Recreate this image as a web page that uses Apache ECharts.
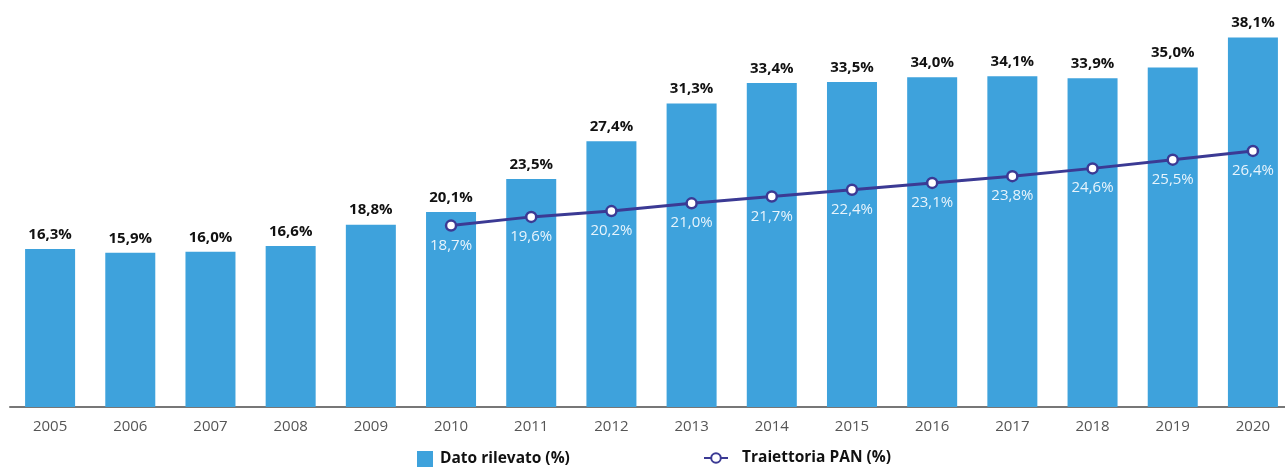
<!DOCTYPE html>
<html><head><meta charset="utf-8">
<script src="https://cdn.jsdelivr.net/npm/echarts@6/dist/echarts.min.js"></script>
<style>html,body{margin:0;padding:0;background:#fff}#c{width:1285px;height:472px}</style>
</head><body><div id="c"></div>
<script>
const years = ['2005','2006','2007','2008','2009','2010','2011','2012','2013','2014','2015','2016','2017','2018','2019','2020'];
const datoRilevato = [16.3,15.9,16.0,16.6,18.8,20.1,23.5,27.4,31.3,33.4,33.5,34.0,34.1,33.9,35.0,38.1];
const traiettoriaPAN = [null,null,null,null,null,18.7,19.6,20.2,21.0,21.7,22.4,23.1,23.8,24.6,25.5,26.4];
const fmt = v => v.toFixed(1).replace('.', ',') + '%';
const FONT = '"Open Sans", "Noto Sans", sans-serif';
const LINE = '#3b3a94';
const idx = years.map((_, i) => i);
const barData = datoRilevato.map((v, i) => [i, v]);
const lineData = traiettoriaPAN.map((v, i) => [i, v]).filter(d => d[1] !== null);
const chart = echarts.init(document.getElementById('c'), null, {renderer:'canvas'});
chart.setOption({
  animation:false,
  textStyle:{fontFamily:FONT},
  grid:{left:10,right:0,top:19,bottom:65,containLabel:false},
  legend:[
    {bottom:0,left:412,itemWidth:16,itemHeight:16,itemGap:10,
     textStyle:{fontFamily:FONT,fontSize:15.5,fontWeight:'bold',color:'#111',padding:[0,0,0,2]},
     data:[{name:'Dato rilevato (%)',icon:'rect'}]},
    {bottom:1,left:698,itemWidth:24,itemHeight:12,itemGap:10,
     textStyle:{fontFamily:FONT,fontSize:15.5,fontWeight:'bold',color:'#111',padding:[0,0,0,9]},
     data:[{name:'Traiettoria PAN (%)'}]}
  ],
  xAxis:{type:'value',min:-0.5,max:15.4,
    splitLine:{show:false},
    axisLine:{onZero:false,lineStyle:{color:'#777',width:2}},
    axisTick:{show:false,customValues:idx},
    axisLabel:{customValues:idx,formatter:v=>years[Math.round(v)]||'',
      color:'#555',fontSize:15,margin:12,fontFamily:FONT,showMinLabel:true,showMaxLabel:true}},
  yAxis:{type:'value',min:0,max:40,show:false,splitLine:{show:false}},
  series:[
    {name:'Dato rilevato (%)',type:'bar',data:barData,barWidth:50,
     itemStyle:{color:'#3ea2dc'},
     label:{show:true,position:'top',distance:7,formatter:p=>fmt(p.value[1]),
       color:'#111',fontWeight:'bold',fontSize:15,fontFamily:FONT}},
    {name:'Traiettoria PAN (%)',type:'line',data:lineData,
     symbol:'circle',symbolSize:10,showAllSymbol:true,
     lineStyle:{color:LINE,width:3},
     itemStyle:{color:'#fff',borderColor:LINE,borderWidth:2.5},
     label:{show:true,position:'bottom',distance:6,formatter:p=>fmt(p.value[1]),
       color:'#e8f4fc',fontSize:15,fontFamily:FONT}}
  ]
});
</script></body></html>
